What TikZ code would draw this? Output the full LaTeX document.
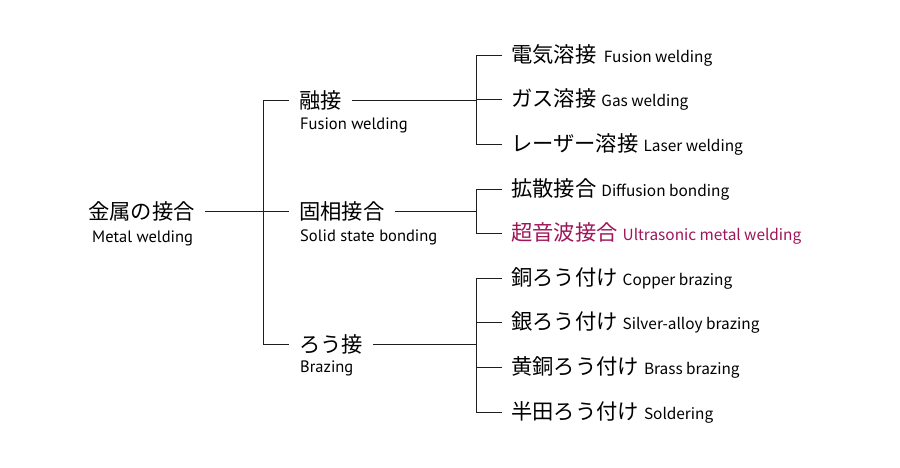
\documentclass[tikz,border=0pt]{standalone}
\usepackage{fontspec}
\setmainfont{PT Sans}
\newfontfamily\jpfont{Noto Sans CJK JP}
\usepackage{xcolor}
\usepackage{tikz}
\usetikzlibrary{calc}
\definecolor{ultracol}{RGB}{160,20,90}
\definecolor{linecol}{RGB}{30,30,30}
\tikzset{
	jp/.style = {anchor = west, inner xsep = 10pt, inner ysep = 2pt, font = \jpfont\fontsize{21.3}{24}\selectfont},
	en/.style = {anchor = west, inner sep = 0pt, font = \fontsize{16.5}{18}\selectfont},
	leaf/.style = {jp, inner xsep = 9pt},
	link/.style = {draw = linecol, line width = .9pt}
}
\newcommand{\entext}[1]{\hspace{5pt}{\fontsize{15.4}{17}\selectfont #1}}

\begin{document}
\begin{tikzpicture}[x = 1pt, y = -1pt]
		\useasboundingbox (0,0) rectangle (900,467);
		\node[jp] (metal) at (78, 211) {金属の接合};
		\node[en] (metalEn) at (92, 238) {Metal welding};
		\node[jp] (fusion) at (289, 100) {融接};
		\node[en] (fusionEn) at (300, 125) {Fusion welding};
		\node[jp] (solid) at (289, 211) {固相接合};
		\node[en] (solidEn) at (300, 237) {Solid state bonding};
		\node[jp] (braze) at (289, 344) {ろう接};
		\node[en] (brazeEn) at (300, 368) {Brazing};
		\coordinate (trunk) at (263, 0);
		\coordinate (bus) at (476, 0);
		\node[leaf] (l1) at (502, 55) {電気溶接\entext{\,Fusion welding}};
		\node[leaf] (l2) at (502, 99) {ガス溶接\entext{Gas welding}};
		\node[leaf] (l3) at (502, 144) {レーザー溶接\entext{Laser welding}};
		\node[leaf] (l4) at (502, 189) {拡散接合\entext{Diffusion bonding}};
		\node[leaf, text = ultracol] (l5) at (502, 233) {超音波接合\entext{Ultrasonic metal welding}};
		\node[leaf] (l6) at (502, 278) {銅ろう付け\entext{Copper brazing}};
		\node[leaf] (l7) at (502, 322) {銀ろう付け\entext{Silver-alloy brazing}};
		\node[leaf] (l8) at (502, 367) {黄銅ろう付け\entext{Brass brazing}};
		\node[leaf] (l9) at (502, 412) {半田ろう付け\entext{Soldering}};
		\draw[link] (metal.east) -- (solid.west);
		\draw[link] (fusion.west) -- (fusion.west -| trunk) -- (braze.west -| trunk) -- (braze.west);
		\draw[link] (fusion.east) -- (fusion.east -| bus);
		\draw[link] (solid.east) -- (solid.east -| bus);
		\draw[link] (braze.east) -- (braze.east -| bus);
		\draw[link] (l1.west -| bus) -- (l3.west -| bus);
		\draw[link] (l4.west -| bus) -- (l5.west -| bus);
		\draw[link] (l6.west -| bus) -- (l9.west -| bus);
		\foreach \i in {1,...,9}{
			\draw[link] (l\i.west) -- (l\i.west -| bus);
			}
	\end{tikzpicture}
\end{document}
